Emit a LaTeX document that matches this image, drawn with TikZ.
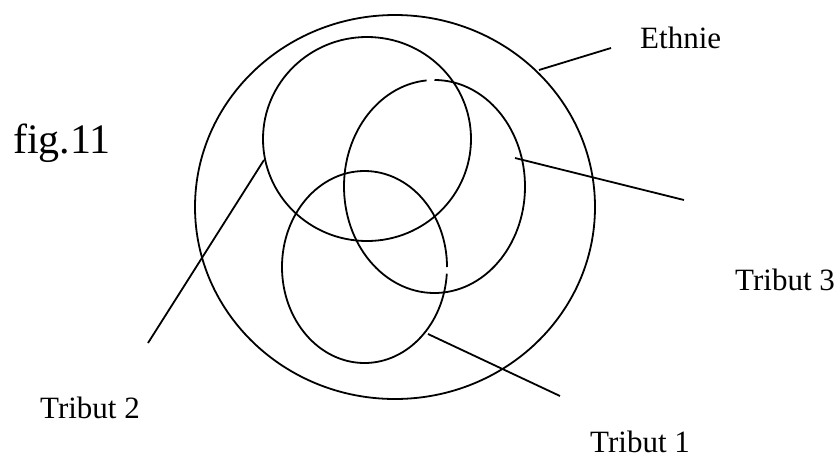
\documentclass[tikz,border=0pt]{standalone}
\usepackage{fontspec}
\setmainfont{Liberation Serif}
\usetikzlibrary{calc}
\tikzset{
  ring/.style={line width=1.8pt},
  pin/.style={line width=1.8pt},
  lbl/.style={font=\fontsize{31}{31}\selectfont,inner sep=0pt,anchor=base west},
}

\begin{document}
\begin{tikzpicture}[x=1pt,y=1pt]
  \useasboundingbox (0,0) rectangle (840,-459);
  % ethnie and the three tributes
  \coordinate (eth) at (395,-207);
  \coordinate (t1) at (364.5,-267);
  \coordinate (t2) at (367,-139);
  \coordinate (t3) at (434.5,-186.5);
  \draw[ring] (eth) ellipse [x radius=200pt, y radius=192pt];
  \draw[ring] (t2) ellipse [x radius=104pt, y radius=102pt];
  \draw[ring] (t3) ++(95:90.5pt and 106.5pt)
    arc[start angle=95, end angle=450, x radius=90.5pt, y radius=106.5pt];
  \draw[ring] (t1) ++(0:82.5pt and 96pt)
    arc[start angle=0, end angle=356, x radius=82.5pt, y radius=96pt];
  % labels
  \node[lbl,font=\fontsize{42}{42}\selectfont] (fig) at (13,-153) {fig.11};
  \node[lbl] (ethnie) at (640,-48) {Ethnie};
  \node[lbl] (trib3) at (735,-290) {Tribut 3};
  \node[lbl] (trib2) at (40,-418) {Tribut 2};
  \node[lbl] (trib1) at (590,-452) {Tribut 1};
  % pointer lines
  \coordinate (ethA) at (539,-70);  \coordinate (ethB) at (611,-48);
  \coordinate (t3A) at (515,-158);  \coordinate (t3B) at (684,-200);
  \coordinate (t2A) at (264,-160);  \coordinate (t2B) at (148,-343);
  \coordinate (t1A) at (428,-334);  \coordinate (t1B) at (560,-396);
  \draw[pin] (ethA) -- (ethB);
  \draw[pin] (t3A) -- (t3B);
  \draw[pin] (t2A) -- (t2B);
  \draw[pin] (t1A) -- (t1B);
\end{tikzpicture}
\end{document}
